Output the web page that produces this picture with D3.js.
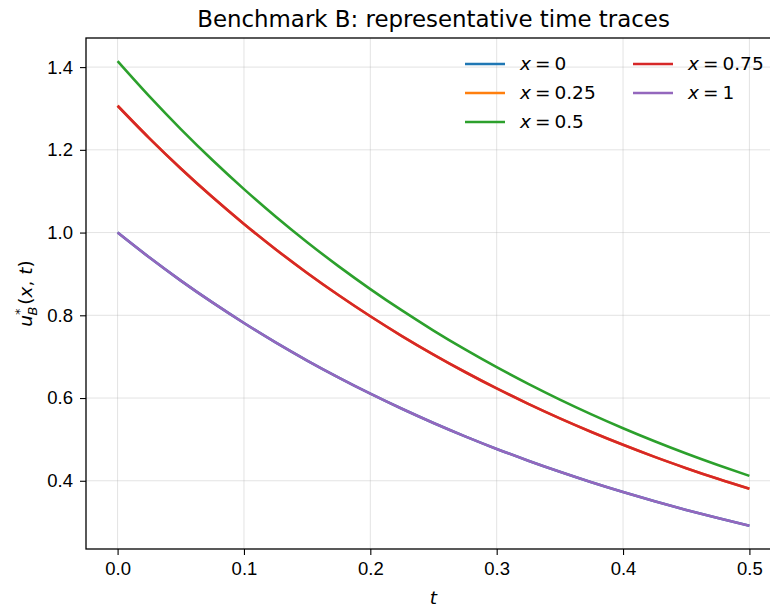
<!DOCTYPE html>
<html>
<head>
<meta charset="utf-8">
<script src="https://cdn.jsdelivr.net/npm/d3@7"></script>
<style>
  body { margin: 0; background: #fff; }
  svg { font-family: "DejaVu Sans", sans-serif; }
  .axis text { font-size: 18.5px; fill: #000; }
  .grid line { stroke: #b0b0b0; stroke-opacity: 0.35; }
</style>
</head>
<body>
<div id="chart"></div>
<script>
// time samples and traces
var times = [0, 0.025, 0.05, 0.075, 0.1, 0.125, 0.15, 0.175, 0.2, 0.225, 0.25,
             0.275, 0.3, 0.325, 0.35, 0.375, 0.4, 0.425, 0.45, 0.475, 0.5];

var traceX0 = [1.0, 0.9402, 0.8839, 0.8311, 0.7814, 0.7346, 0.6907, 0.6494, 0.6105, 0.5740, 0.5397,
               0.5074, 0.4770, 0.4485, 0.4217, 0.3964, 0.3727, 0.3504, 0.3295, 0.3098, 0.2912];
var traceX025 = [1.3066, 1.2284, 1.1549, 1.0858, 1.0209, 0.9598, 0.9024, 0.8484, 0.7977, 0.7499, 0.7051,
                 0.6629, 0.6232, 0.5860, 0.5509, 0.5180, 0.4870, 0.4578, 0.4305, 0.4047, 0.3805];
var traceX05 = [1.4142, 1.3296, 1.2501, 1.1753, 1.1050, 1.0389, 0.9767, 0.9183, 0.8634, 0.8117, 0.7632,
                0.7175, 0.6746, 0.6343, 0.5963, 0.5606, 0.5271, 0.4956, 0.4659, 0.4381, 0.4118];
var traceX075 = [1.3066, 1.2284, 1.1549, 1.0858, 1.0209, 0.9598, 0.9024, 0.8484, 0.7977, 0.7499, 0.7051,
                 0.6629, 0.6232, 0.5860, 0.5509, 0.5180, 0.4870, 0.4578, 0.4305, 0.4047, 0.3805];
var traceX1 = [1.0, 0.9402, 0.8839, 0.8311, 0.7814, 0.7346, 0.6907, 0.6494, 0.6105, 0.5740, 0.5397,
               0.5074, 0.4770, 0.4485, 0.4217, 0.3964, 0.3727, 0.3504, 0.3295, 0.3098, 0.2912];

var seriesLabels = ["0", "0.25", "0.5", "0.75", "1"];
var seriesColors = ["#1f77b4", "#ff7f0e", "#2ca02c", "#d62728", "#9467bd"];
var xTicks = [0.0, 0.1, 0.2, 0.3, 0.4, 0.5];
var yTicks = [0.4, 0.6, 0.8, 1.0, 1.2, 1.4];

var series = [traceX0, traceX025, traceX05, traceX075, traceX1].map(function(vals, i) {
    return {
        label: seriesLabels[i],
        color: seriesColors[i],
        values: vals.map(function(v, j) { return { t: times[j], u: v }; })
    };
});

var W = 770, H = 608;
var margin = { top: 38, right: -11, bottom: 59, left: 86 };
var width = W - margin.left - margin.right,
    height = H - margin.top - margin.bottom;

var svg = d3.select("#chart").append("svg")
    .attr("width", W)
    .attr("height", H);

var g = svg.append("g")
    .attr("transform", "translate(" + margin.left + "," + margin.top + ")");

// matplotlib-like 5% padding on data limits
var tExt = d3.extent(times);
var tPad = (tExt[1] - tExt[0]) * 0.05;
var allU = d3.merge(series.map(function(s) { return s.values.map(function(d) { return d.u; }); }));
var uExt = d3.extent(allU);
var uPad = (uExt[1] - uExt[0]) * 0.05;

var x = d3.scaleLinear()
    .domain([tExt[0] - tPad, tExt[1] + tPad])
    .range([0, width]);

var y = d3.scaleLinear()
    .domain([uExt[0] - uPad, uExt[1] + uPad])
    .range([height, 0]);

// grid
g.append("g").attr("class", "grid")
    .selectAll("line").data(xTicks).enter().append("line")
    .attr("x1", function(d) { return x(d); })
    .attr("x2", function(d) { return x(d); })
    .attr("y1", 0).attr("y2", height);

g.append("g").attr("class", "grid")
    .selectAll("line").data(yTicks).enter().append("line")
    .attr("y1", function(d) { return y(d); })
    .attr("y2", function(d) { return y(d); })
    .attr("x1", 0).attr("x2", width);

// lines
var line = d3.line()
    .x(function(d) { return x(d.t); })
    .y(function(d) { return y(d.u); })
    .curve(d3.curveMonotoneX);

g.selectAll(".trace").data(series).enter().append("path")
    .attr("class", "trace")
    .attr("fill", "none")
    .attr("stroke", function(d) { return d.color; })
    .attr("stroke-width", 2.6)
    .attr("d", function(d) { return line(d.values); });

// axes
var xAxis = d3.axisBottom(x).tickValues(xTicks).tickFormat(d3.format(".1f")).tickSize(6).tickPadding(7);
var yAxis = d3.axisLeft(y).tickValues(yTicks).tickFormat(d3.format(".1f")).tickSize(6).tickPadding(7);

var gx = g.append("g").attr("class", "axis")
    .attr("transform", "translate(0," + height + ")")
    .call(xAxis);
var gy = g.append("g").attr("class", "axis").call(yAxis);

[gx, gy].forEach(function(a) {
    a.select(".domain").remove();
    a.selectAll(".tick line").attr("stroke", "#000").attr("stroke-width", 1.1);
});

// spines
g.append("rect")
    .attr("width", width).attr("height", height)
    .attr("fill", "none").attr("stroke", "#000").attr("stroke-width", 1.3);

// title
svg.append("text")
    .attr("x", margin.left + width / 2)
    .attr("y", 27)
    .attr("text-anchor", "middle")
    .style("font-size", "22.9px")
    .text("Benchmark B: representative time traces");

// x label
svg.append("text")
    .attr("x", margin.left + width / 2)
    .attr("y", 604)
    .attr("text-anchor", "middle")
    .style("font-size", "18.5px")
    .style("font-style", "italic")
    .text("t");

// y label  u*_B(x, t)
var yl = svg.append("text")
    .attr("transform", "translate(32," + (margin.top + height / 2) + ") rotate(-90)")
    .attr("text-anchor", "middle")
    .style("font-size", "18.5px");
yl.append("tspan").style("font-style", "italic").text("u");
yl.append("tspan").attr("dy", -8).style("font-size", "13px").text("*");
yl.append("tspan").attr("dx", -7).attr("dy", 13).style("font-size", "13px").style("font-style", "italic").text("B");
yl.append("tspan").attr("dx", 2).attr("dy", -5).text("(");
yl.append("tspan").style("font-style", "italic").text("x");
yl.append("tspan").text(", ");
yl.append("tspan").style("font-style", "italic").text("t");
yl.append("tspan").text(")");

// legend, two columns, no frame
var legend = g.append("g").attr("transform", "translate(379,26)");
var items = legend.selectAll(".item").data(series).enter().append("g")
    .attr("class", "item")
    .attr("transform", function(d, i) {
        var col = Math.floor(i / 3), row = i % 3;
        return "translate(" + (col * 168) + "," + (row * 29) + ")";
    });
items.append("line")
    .attr("x1", 0).attr("x2", 40)
    .attr("stroke", function(d) { return d.color; })
    .attr("stroke-width", 2.6);
var lt = items.append("text")
    .attr("x", 55).attr("dy", "0.35em")
    .style("font-size", "18.5px");
lt.append("tspan").style("font-style", "italic").text("x");
lt.append("tspan").attr("dx", 4).text("=");
lt.append("tspan").attr("dx", 4).text(function(d) { return d.label; });
</script>
</body>
</html>
